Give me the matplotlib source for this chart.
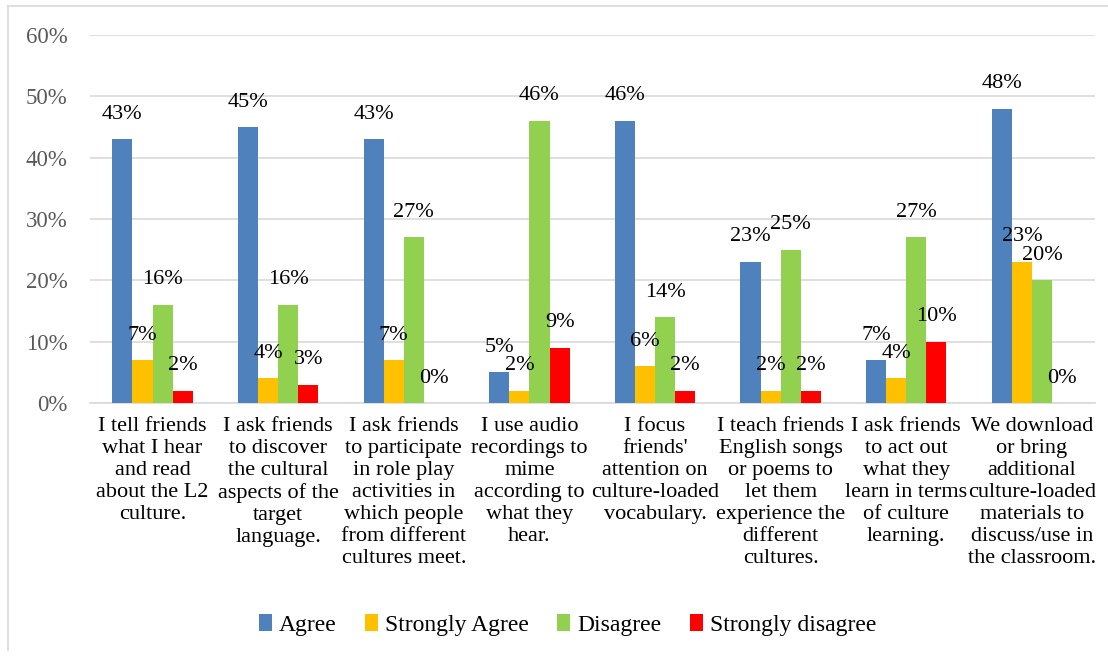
import matplotlib.pyplot as plt
import numpy as np
from matplotlib.lines import Line2D

plt.rcParams['font.family'] = ['Liberation Serif', 'DejaVu Serif']

categories = [
    "I tell friends\nwhat I hear\nand read\nabout the L2\nculture.",
    "I ask friends\nto discover\nthe cultural\naspects of the\ntarget\nlanguage.",
    "I ask friends\nto participate\nin role play\nactivities in\nwhich people\nfrom different\ncultures meet.",
    "I use audio\nrecordings to\nmime\naccording to\nwhat they\nhear.",
    "I focus\nfriends'\nattention on\nculture-loaded\nvocabulary.",
    "I teach friends\nEnglish songs\nor poems to\nlet them\nexperience the\ndifferent\ncultures.",
    "I ask friends\nto act out\nwhat they\nlearn in terms\nof culture\nlearning.",
    "We download\nor bring\nadditional\nculture-loaded\nmaterials to\ndiscuss/use in\nthe classroom.",
]
series_names = ["Agree", "Strongly Agree", "Disagree", "Strongly disagree"]
agree = [43, 45, 43, 5, 46, 23, 7, 48]
strongly_agree = [7, 4, 7, 2, 6, 2, 4, 23]
disagree = [16, 16, 27, 46, 14, 25, 27, 20]
strongly_disagree = [2, 3, 0, 9, 2, 2, 10, 0]
colors = ["#4F81BD", "#FFC000", "#92D050", "#FF0000"]
yticks = [0, 10, 20, 30, 40, 50, 60]

fig = plt.figure(figsize=(11.08, 6.57), dpi=100)
ax = fig.add_axes([0.081, 0.3866, 0.907, 0.56])

x = np.arange(len(categories))
w = 0.16
all_series = [agree, strongly_agree, disagree, strongly_disagree]
for i, (vals, col) in enumerate(zip(all_series, colors)):
    pos = x + (i - 1.5) * w
    ax.bar(pos, vals, width=w, color=col, label=series_names[i], zorder=3)
    for px, v in zip(pos, vals):
        ax.annotate(f"{v}%", (px, v), xytext=(0, 18), textcoords='offset points',
                    ha='center', va='center', fontsize=16, color='black', zorder=4)

ax.set_ylim(0, 60)
ax.set_xlim(-0.5, len(categories) - 0.5)
ax.set_yticks(yticks)
ax.set_yticklabels([f"{t}%" for t in yticks], fontsize=16.5, color='#595959')
ax.set_xticks(x)
ax.set_xticklabels(categories, fontsize=16, color='black')
for lbl in ax.get_xticklabels():
    lbl.set_linespacing(1.22)
ax.tick_params(axis='both', length=0)
ax.tick_params(axis='y', pad=16)
ax.tick_params(axis='x', pad=10)
ax.grid(axis='y', color='#D9D9D9', linewidth=1.2, zorder=0)
for s in ['top', 'right', 'left']:
    ax.spines[s].set_visible(False)
ax.spines['bottom'].set_color('#D9D9D9')
ax.spines['bottom'].set_linewidth(1.2)

leg = fig.legend(loc='lower center', bbox_to_anchor=(0.512, 0.0), ncol=4, frameon=False,
                 fontsize=17, handlelength=0.55, handleheight=0.75, handletextpad=0.3,
                 columnspacing=1.2)

# chart border (top and left edges)
fig.add_artist(Line2D([8 / 1108, 1.0], [1 - 6 / 657, 1 - 6 / 657], color='#D9D9D9', lw=1.2))
fig.add_artist(Line2D([8 / 1108, 8 / 1108], [1 - 6 / 657, 0.01], color='#D9D9D9', lw=1.2))

fig.savefig('out.png', dpi=100)
